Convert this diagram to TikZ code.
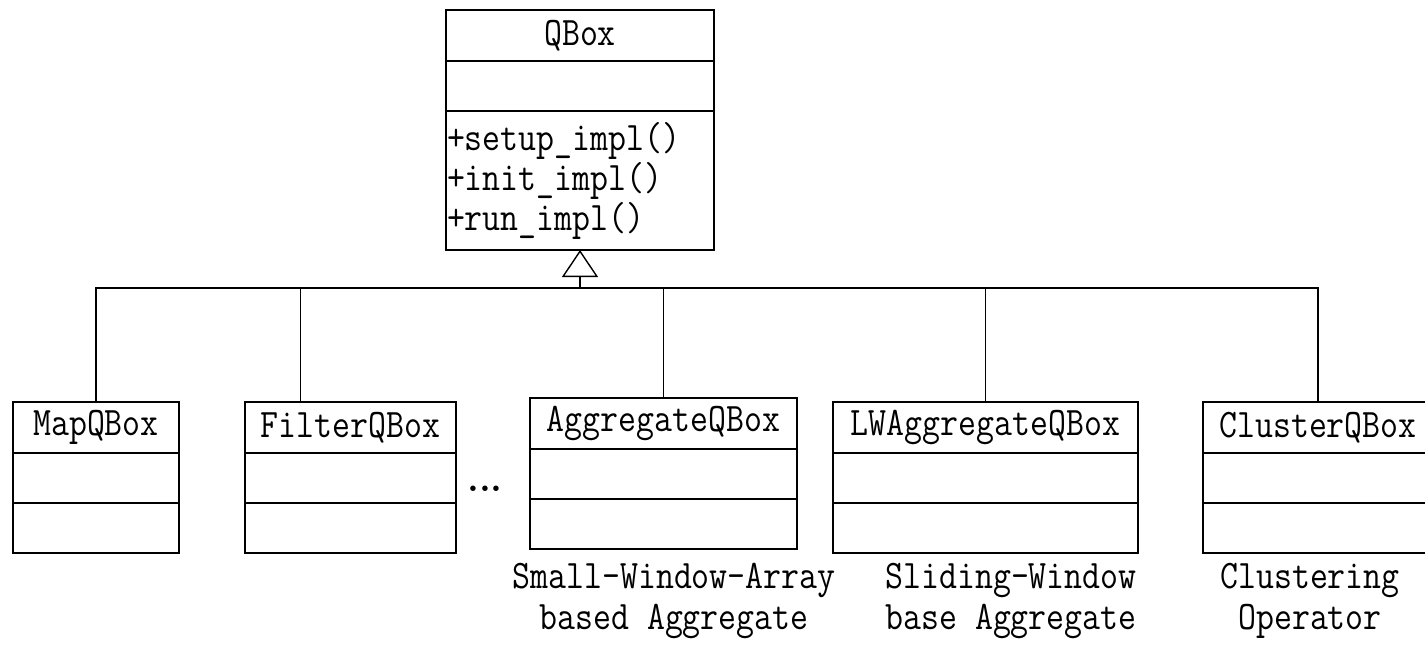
\documentclass[tikz,border=0pt]{standalone}
\usepackage{fontspec}
\setmonofont{Latin Modern Mono}[FakeStretch=0.86]
\usepackage{tikz}
\usetikzlibrary{arrows.meta, positioning}

\begin{document}
\begin{tikzpicture}[x=1pt, y=-1pt,
    cls/.style={draw, line width=1.5pt, inner sep=0pt, outer sep=0pt, font=\fontsize{40.5}{38}\selectfont\ttfamily, minimum height=51pt},
    part/.style={draw, line width=1.5pt, inner sep=0pt, outer sep=0pt, minimum height=50pt},
    note/.style={align=center, font=\fontsize{40.5}{41}\selectfont\ttfamily},
    link/.style={line width=1.4pt},
    inherit/.style={line width=1.4pt, -{Triangle[open, length=27pt, width=36pt, line width=1.4pt]}}
]
\useasboundingbox (0,0) rectangle (1425,645);
\clip (0,0) rectangle (1425,645);

% base class
\node[cls, minimum width=268pt] (qbox) at (580,35.5) {QBox};
\node[part, minimum width=268pt, below=0pt of qbox] (qboxa) {};
\node[part, minimum width=268pt, minimum height=139pt, text width=266pt, inner xsep=1pt, align=left,
      font=\fontsize{40.5}{40}\selectfont\ttfamily, below=0pt of qboxa] (qboxo)
      {+setup\_impl()\\+init\_impl()\\+run\_impl()};

% subclasses
\node[cls, minimum width=166pt] (map) at (96,427.5) {MapQBox};
\node[part, minimum width=166pt, below=0pt of map] (mapa) {};
\node[part, minimum width=166pt, below=0pt of mapa] (mapo) {};

\node[cls, minimum width=211pt, right=66pt of map] (filter) {FilterQBox};
\node[part, minimum width=211pt, below=0pt of filter] (filtera) {};
\node[part, minimum width=211pt, below=0pt of filtera] (filtero) {};

\node[cls, minimum width=267pt, right=74pt of filter, yshift=4pt] (agg) {AggregateQBox};
\node[part, minimum width=267pt, below=0pt of agg] (agga) {};
\node[part, minimum width=267pt, below=0pt of agga] (aggo) {};

\node[cls, minimum width=305pt, right=36pt of agg, yshift=-4pt] (lw) {LWAggregateQBox};
\node[part, minimum width=305pt, below=0pt of lw] (lwa) {};
\node[part, minimum width=305pt, below=0pt of lwa] (lwo) {};

\node[cls, minimum width=230pt, right=65pt of lw] (cl) {ClusterQBox};
\node[part, minimum width=230pt, below=0pt of cl] (cla) {};
\node[part, minimum width=230pt, below=0pt of cla] (clo) {};

\node[font=\fontsize{38}{38}\selectfont\bfseries] (dots) at (485,489) {...};

% notes
\node[note] (aggnote) at (674,601) {Small-Window-Array\\based Aggregate};
\node[note] (lwnote) at (1011,601) {Sliding-Window\\base Aggregate};
\node[note] (clnote) at (1310,601) {Clustering\\Operator};

% inheritance
\coordinate (bus) at (580,288);
\draw[inherit] (bus) -- (qboxo.south);
\foreach \c in {map, agg, lw, cl}
    \draw[link] (\c.north) |- (bus);
\draw[link] ([xshift=-50pt]filter.north) |- (bus);
\end{tikzpicture}
\end{document}
